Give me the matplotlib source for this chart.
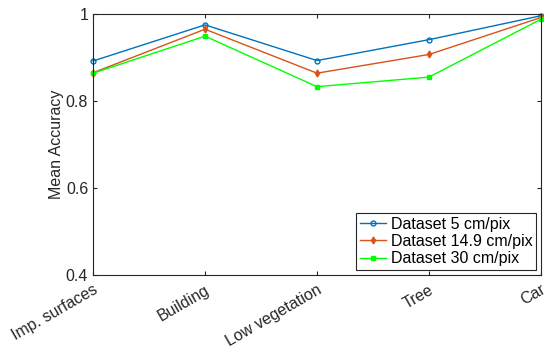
import matplotlib.pyplot as plt
from matplotlib.ticker import FuncFormatter

plt.rcParams["font.family"] = ["Liberation Sans", "DejaVu Sans"]

categories = ["Imp. surfaces", "Building", "Low vegetation", "Tree", "Car"]
acc_5cm = [0.892, 0.975, 0.893, 0.941, 0.996]
acc_14cm = [0.865, 0.965, 0.864, 0.907, 0.992]
acc_30cm = [0.864, 0.949, 0.833, 0.855, 0.988]
series_labels = ["Dataset 5 cm/pix", "Dataset 14.9 cm/pix", "Dataset 30 cm/pix"]
y_ticks = [0.4, 0.6, 0.8, 1.0]

fig = plt.figure(figsize=(5.44, 3.5), dpi=100)
ax = fig.add_axes([0.171, 0.214, 0.8235, 0.746])

x = list(range(len(categories)))
ax.plot(x, acc_5cm, color="#0072BD", marker="o", markersize=3.5, markerfacecolor="none",
        markeredgewidth=1.0, linewidth=1.0, label=series_labels[0], clip_on=False)
ax.plot(x, acc_14cm, color="#D95319", marker="d", markersize=3.5, linewidth=1.0,
        label=series_labels[1], clip_on=False)
ax.plot(x, acc_30cm, color="#00FF00", marker="s", markersize=2.5, linewidth=1.0,
        label=series_labels[2], clip_on=False)

ax.set_xlim(0, len(categories) - 1)
ax.set_ylim(0.4, 1.0)
ax.set_xticks(x)
ax.set_xticklabels(categories, rotation=30, ha="right", rotation_mode="anchor", fontsize=11.5)
ax.set_yticks(y_ticks)
ax.yaxis.set_major_formatter(FuncFormatter(lambda v, _: f"{v:g}"))
ax.tick_params(direction="in", top=True, right=True, length=3, width=0.8, labelsize=11.5,
               colors="#262626")
ax.tick_params(axis="x", pad=5)
for spine in ax.spines.values():
    spine.set_linewidth(0.8)
    spine.set_color("#262626")
ax.set_ylabel("Mean Accuracy", fontsize=11.5, color="#262626", labelpad=1)

leg = ax.legend(loc="lower right", fontsize=11.5, handlelength=1.6, handletextpad=0.3,
                borderpad=0.25, labelspacing=0.15, borderaxespad=0.3, fancybox=False,
                framealpha=1)
leg.get_frame().set_edgecolor("#262626")
leg.get_frame().set_linewidth(0.8)

fig.savefig("out.png", dpi=100)
